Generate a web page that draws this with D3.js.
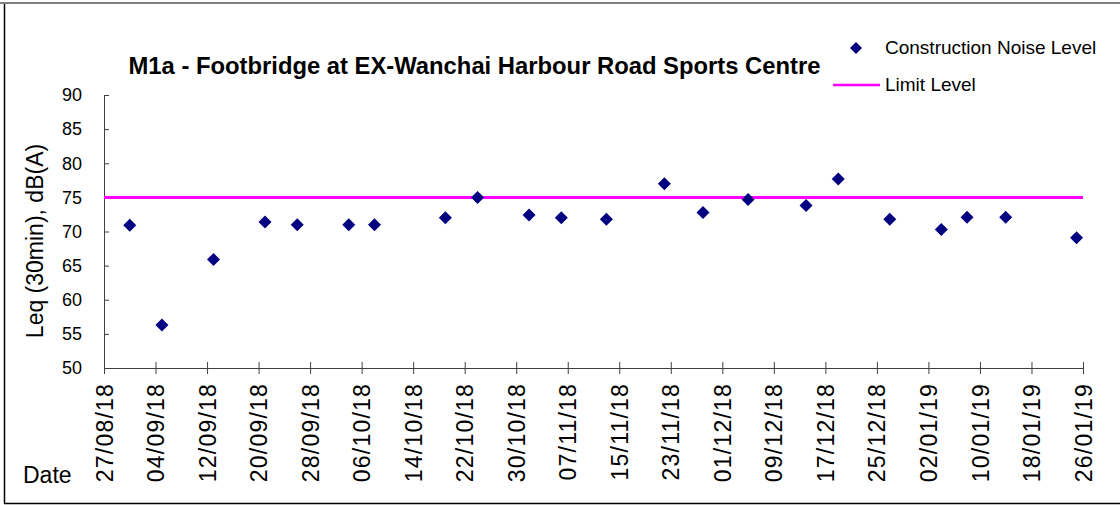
<!DOCTYPE html>
<html>
<head>
<meta charset="utf-8">
<script src="https://cdn.jsdelivr.net/npm/d3@7"></script>
<style>
  html, body { margin: 0; padding: 0; background: #fff; }
  svg { display: block; font-family: "Liberation Sans", Arial, sans-serif; }
</style>
</head>
<body>
<div id="chart"></div>
<script>
// measurement dates (dd/mm/yy) and Leq readings
const dates = ['31/08/18', '05/09/18', '13/09/18', '21/09/18', '26/09/18', '04/10/18', '08/10/18',
  '19/10/18', '24/10/18', '01/11/18', '06/11/18', '13/11/18', '22/11/18', '28/11/18', '05/12/18',
  '14/12/18', '19/12/18', '27/12/18', '04/01/19', '08/01/19', '14/01/19', '25/01/19'];
const noiseLevels = [70.9, 56.3, 65.9, 71.4, 71.0, 71.0, 71.0, 72.0, 75.0, 72.4, 72.0, 71.8, 77.0,
  72.8, 74.7, 73.8, 77.7, 71.8, 70.3, 72.1, 72.1, 69.1];
const limitLevel = 75;

// axis ticks
const xTickLabels = ['27/08/18', '04/09/18', '12/09/18', '20/09/18', '28/09/18', '06/10/18', '14/10/18',
  '22/10/18', '30/10/18', '07/11/18', '15/11/18', '23/11/18', '01/12/18', '09/12/18', '17/12/18',
  '25/12/18', '02/01/19', '10/01/19', '18/01/19', '26/01/19'];
const yTicks = [50, 55, 60, 65, 70, 75, 80, 85, 90];

const seriesNames = ['Construction Noise Level', 'Limit Level'];
const title = 'M1a - Footbridge at EX-Wanchai Harbour Road Sports Centre';

const width = 1120, height = 505;
const parse = d3.utcParse('%d/%m/%y');
const navy = '#000080', magenta = '#ff00ff';

const svg = d3.select('#chart').append('svg')
  .attr('width', width)
  .attr('height', height);

// frame (the chart box is cut at top/right)
svg.append('line').attr('x1', 0).attr('x2', width).attr('y1', 3).attr('y2', 3)
  .attr('stroke', '#808080').attr('stroke-width', 2);
svg.append('line').attr('x1', 4.5).attr('x2', 4.5).attr('y1', 4).attr('y2', 504)
  .attr('stroke', '#000').attr('stroke-width', 1.5);
svg.append('line').attr('x1', 4).attr('x2', width).attr('y1', 503.5).attr('y2', 503.5)
  .attr('stroke', '#000').attr('stroke-width', 1.5);

const x = d3.scaleUtc()
  .domain([parse(xTickLabels[0]), parse(xTickLabels[xTickLabels.length - 1])])
  .range([104, 1083]);

const y = d3.scaleLinear()
  .domain([yTicks[0], yTicks[yTicks.length - 1]])
  .range([368, 95]);

// y axis - ticks pointing inward
const yAxis = svg.append('g')
  .attr('transform', 'translate(104,0)')
  .call(d3.axisRight(y).tickValues(yTicks).tickSize(5).tickFormat(d3.format('d')));
yAxis.select('.domain').attr('stroke', '#404040');
yAxis.selectAll('.tick line').attr('stroke', '#404040');
yAxis.selectAll('.tick text')
  .attr('x', -22)
  .attr('text-anchor', 'end')
  .attr('fill', '#000')
  .style('font-size', '18px');

// x axis - cross ticks
const xAxis = svg.append('g')
  .attr('transform', 'translate(0,368)')
  .call(d3.axisBottom(x).tickValues(xTickLabels.map(parse)).tickSize(6).tickFormat(d3.utcFormat('%d/%m/%y')));
xAxis.select('.domain').attr('stroke', '#404040');
xAxis.selectAll('.tick line').attr('y1', -6).attr('stroke', '#404040');
xAxis.selectAll('.tick text')
  .attr('transform', 'rotate(-90)')
  .attr('x', -15)
  .attr('y', 0)
  .attr('dy', '0.35em')
  .attr('text-anchor', 'end')
  .attr('fill', '#000')
  .style('font-size', '23px')
  .style('letter-spacing', '1.2px');

// limit line
svg.append('line')
  .attr('x1', x.range()[0]).attr('x2', x.range()[1])
  .attr('y1', y(limitLevel)).attr('y2', y(limitLevel))
  .attr('stroke', magenta).attr('stroke-width', 3);

// diamonds
const diamond = (cx, cy, r) => `M${cx},${cy - r}L${cx + r},${cy}L${cx},${cy + r}L${cx - r},${cy}Z`;
svg.append('g').selectAll('path')
  .data(dates.map((d, i) => ({ date: parse(d), value: noiseLevels[i] })))
  .enter().append('path')
  .attr('d', d => diamond(x(d.date), y(d.value), 6.5))
  .attr('fill', navy);

// axis titles
svg.append('text')
  .attr('transform', 'translate(43,241) rotate(-90)')
  .attr('text-anchor', 'middle')
  .style('font-size', '23px')
  .text('Leq (30min), dB(A)');

svg.append('text')
  .attr('x', 23).attr('y', 483)
  .style('font-size', '23px')
  .text('Date');

// title
svg.append('text')
  .attr('x', 474.5).attr('y', 74)
  .attr('text-anchor', 'middle')
  .style('font-size', '23.8px')
  .style('font-weight', 'bold')
  .text(title);

// legend
const legend = svg.append('g');
legend.append('path').attr('d', diamond(856, 48, 6)).attr('fill', navy);
legend.append('text').attr('x', 885).attr('y', 54).style('font-size', '19px').text(seriesNames[0]);
legend.append('line').attr('x1', 833).attr('x2', 880).attr('y1', 85).attr('y2', 85)
  .attr('stroke', magenta).attr('stroke-width', 2.5);
legend.append('text').attr('x', 885).attr('y', 91).style('font-size', '19px').text(seriesNames[1]);
</script>
</body>
</html>
